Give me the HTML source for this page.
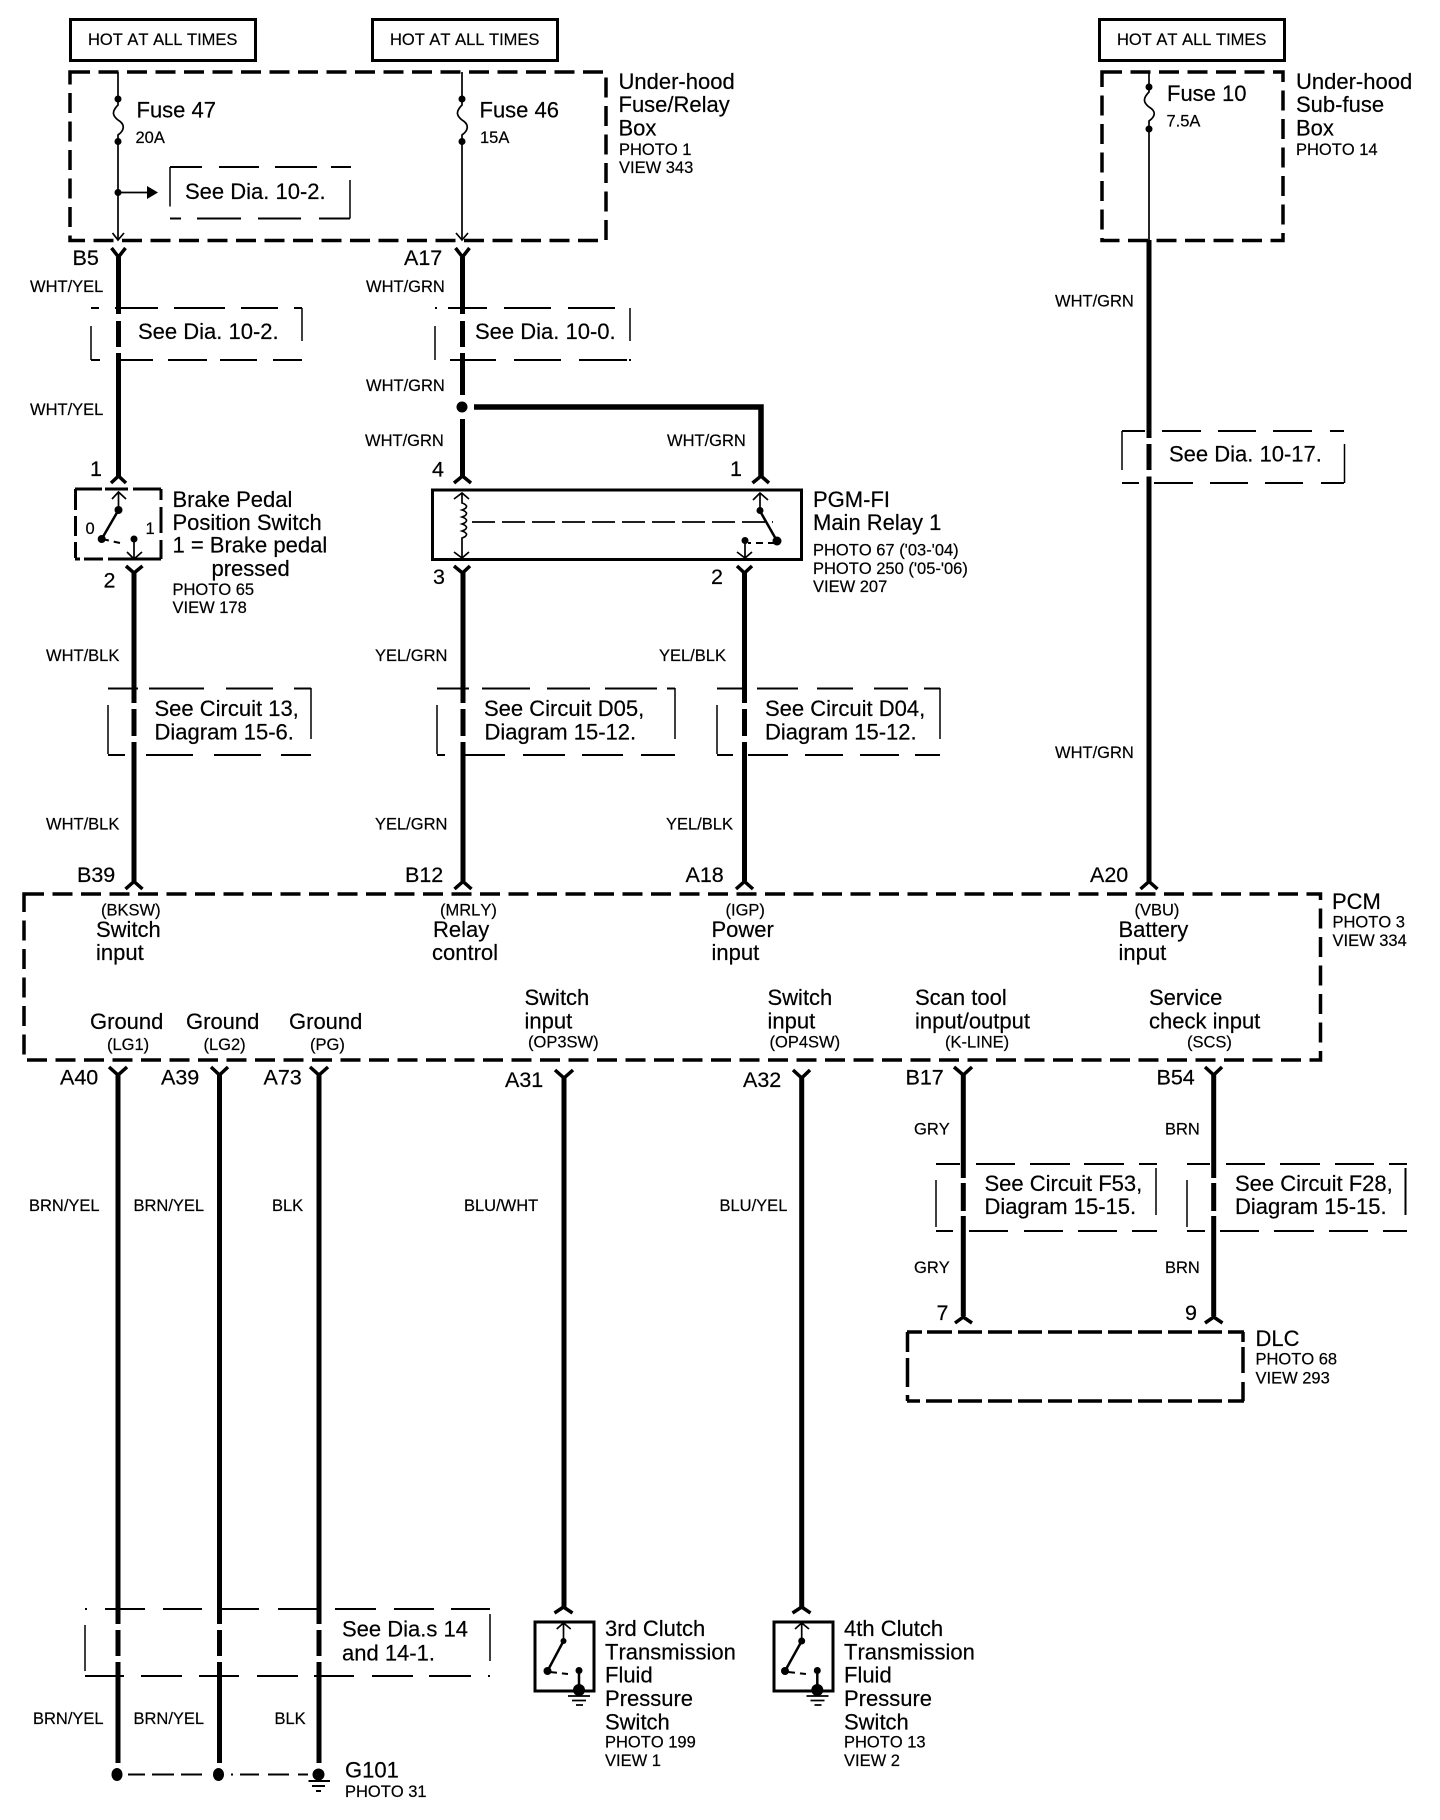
<!DOCTYPE html>
<html lang="en"><head><meta charset="utf-8"><title>Wiring diagram</title>
<style>
html,body{margin:0;padding:0;background:#fff}
svg{display:block}
text{font-family:"Liberation Sans",Arial,sans-serif;fill:#000;font-kerning:none;stroke:#000;stroke-width:.2}
.b{font-size:22px}.s{font-size:16.5px}.p{font-size:21.5px}
.w,.t,.d,.v,.c,.k,.x{fill:none;stroke:#000}
.w{stroke-width:5}.t{stroke-width:1.7}.d{stroke-width:2}.v{stroke-width:1.5}.c{stroke-width:3.5}
.k{stroke-width:3}.x{stroke-width:3.5;stroke-dasharray:20 8.5}
circle,ellipse,polygon{fill:#000}
</style></head><body>
<svg xmlns="http://www.w3.org/2000/svg" width="1440" height="1820" viewBox="0 0 1440 1820">
<rect width="1440" height="1820" fill="#fff"/>

<!-- HOT boxes -->
<rect class="k" x="70.5" y="19.5" width="185" height="41"/>
<rect class="k" x="372.5" y="19.5" width="185" height="41"/>
<rect class="k" x="1099.5" y="19.5" width="185" height="41"/>
<text class="s" x="88" y="45">HOT AT ALL TIMES</text>
<text class="s" x="390" y="45">HOT AT ALL TIMES</text>
<text class="s" x="1117" y="45">HOT AT ALL TIMES</text>

<!-- Fuse boxes -->
<rect class="x" x="70" y="72" width="536" height="168.5"/>
<rect class="x" x="1102" y="72" width="181" height="168.5"/>
<path class="t" d="M118 72V99C118 99 118 105 118 105C111 112 113 116 118 120C125 124 125 130 118 135V240"/>
<path class="t" d="M462 72V99V105C455 112 457 116 462 120C469 124 469 130 462 135V240"/>
<path class="t" d="M1149 72V87V92C1142 99 1144 103 1149 107C1156 111 1156 116 1149 121V240"/>
<circle cx="118" cy="99" r="3.5"/><circle cx="118" cy="141.5" r="3.5"/><circle cx="118" cy="192.5" r="3.5"/>
<circle cx="462" cy="99" r="3.5"/><circle cx="462" cy="141.5" r="3.5"/>
<circle cx="1149" cy="87" r="3.5"/><circle cx="1149" cy="129" r="3.5"/>
<path class="t" d="M118 192.5H148"/><polygon points="147,186 158,192.5 147,199"/>
<path class="t" d="M112.5 233L118 240L124 233M456 233L462 240L468 233"/>
<text class="b" x="136.5" y="117.5">Fuse 47</text><text class="s" x="135.5" y="143">20A</text>
<text class="b" x="479.5" y="117.5">Fuse 46</text><text class="s" x="480" y="143">15A</text>
<text class="b" x="1167" y="101">Fuse 10</text><text class="s" x="1166.5" y="126.5">7.5A</text>
<text class="b" x="618.5" y="89">Under-hood</text><text class="b" x="618.5" y="112">Fuse/Relay</text><text class="b" x="618.5" y="135.5">Box</text>
<text class="s" x="619" y="155">PHOTO 1</text><text class="s" x="619" y="173">VIEW 343</text>
<text class="b" x="1296" y="89">Under-hood</text><text class="b" x="1296" y="112">Sub-fuse</text><text class="b" x="1296" y="135.5">Box</text>
<text class="s" x="1296" y="155">PHOTO 14</text>

<!-- See Dia inner -->
<path class="d" d="M170 167H202M219 167H259M275 167H317M331 167H351M170 218.5H181M197 218.5H241M258 218.5H301M319 218.5H350"/>
<path class="v" d="M170 167V206.5M350 180V218.5"/>
<text class="b" x="185" y="199">See Dia. 10-2.</text>

<!-- See Dia 10-2 / 10-0 / 10-17 -->
<path class="d" d="M91 308H99M115 308H158M174 308H225M241 308H278M294 308H302M91 360H100M117 360H153M168 360H207M220 360H257M273 360H302"/>
<path class="v" d="M91 326V360M302 308V341"/>
<text class="b" x="138" y="339">See Dia. 10-2.</text>
<path class="d" d="M435 308H437M448 308H487M504 308H551M568 308H615M450 360H496M514 360H561M579 360H627M629 360H631"/>
<path class="v" d="M435 326V360M630 308V341"/>
<text class="b" x="475" y="339">See Dia. 10-0.</text>
<path class="d" d="M1122 431H1145M1162 431H1201M1218 431H1256M1273 431H1312M1330 431H1344M1122 483H1139M1154 483H1193M1210 483H1248M1265 483H1303M1321 483H1344"/>
<path class="v" d="M1122 431V470M1344.5 444V483"/>
<text class="b" x="1169" y="461.5">See Dia. 10-17.</text>

<!-- Circuit boxes -->
<path class="d" d="M108 688.5H138M149 688.5H204M226 688.5H273M294 688.5H311M108 755H125M146 755H193M214 755H261M281 755H311"/>
<path class="v" d="M108 705V754M311 688V739"/>
<text class="b" x="154.5" y="716">See Circuit 13,</text><text class="b" x="154.5" y="739.5">Diagram 15-6.</text>
<path class="d" d="M437 688.5H469M482 688.5H530M547 688.5H590M605 688.5H657M667 688.5H675M437 755H445M465 755H505M523 755H565M582 755H623M641 755H675"/>
<path class="v" d="M437 705V754M675 688V739"/>
<text class="b" x="484" y="716">See Circuit D05,</text><text class="b" x="484.5" y="739.5">Diagram 15-12.</text>
<path class="d" d="M717 688.5H745M757 688.5H798M817 688.5H853M874 688.5H908M924 688.5H940M717 755H733M748 755H788M805 755H843M860 755H899M915 755H940"/>
<path class="v" d="M717 705V754M940 688V739"/>
<text class="b" x="765" y="716">See Circuit D04,</text><text class="b" x="765" y="739.5">Diagram 15-12.</text>
<path class="d" d="M936 1164H960M976 1164H1015M1030 1164H1070M1084 1164H1124M1139 1164H1157M936 1231H953M969 1231H1008M1024 1231H1063M1078 1231H1117M1132 1231H1157"/>
<path class="v" d="M936 1180V1227M1156 1168V1215"/>
<text class="b" x="984.5" y="1191">See Circuit F53,</text><text class="b" x="984.5" y="1214">Diagram 15-15.</text>
<path class="d" d="M1187 1164H1210M1226 1164H1265M1280 1164H1320M1335 1164H1374M1389 1164H1407M1187 1231H1205M1220 1231H1259M1274 1231H1314M1329 1231H1368M1383 1231H1407"/>
<path class="v" d="M1187 1180V1227"/><path class="d" d="M1405.5 1168V1215"/>
<text class="b" x="1235" y="1191">See Circuit F28,</text><text class="b" x="1235" y="1214">Diagram 15-15.</text>
<path class="d" d="M85 1609H87M105 1609H145M163 1609H202M220 1609H259M278 1609H317M335 1609H376M394 1609H434M451 1609H490M85 1676H124M141 1676H182M199 1676H239M257 1676H298M314 1676H354M372 1676H413M429 1676H471M488 1676H490"/>
<path class="v" d="M85 1625V1671M490 1614V1661"/>
<text class="b" x="342" y="1636.5">See Dia.s 14</text><text class="b" x="342" y="1660.5">and 14-1.</text>

<!-- Wires -->
<path class="w" d="M118.5 257V314M118.5 321V347M118.5 353V477"/>
<path class="w" d="M462.5 257V314M462.5 321V347M462.5 353V395M462.5 419V477"/>
<circle cx="462" cy="407" r="5.5"/>
<path class="w" style="stroke-width:5.5" d="M474 407H761V477"/>
<path class="w" d="M134 572V703M134 709V736M134 742V881"/>
<path class="w" d="M463 572V703M463 709V736M463 742V881"/>
<path class="w" d="M744.5 572V703M744.5 709V736M744.5 742V881"/>
<path class="w" d="M1149 240V438M1149 444V470M1149 476.5V881"/>
<path class="w" d="M118 1075V1624M118 1630V1656M118 1662V1763"/>
<path class="w" d="M219.5 1075V1624M219.5 1630V1656M219.5 1662V1763"/>
<path class="w" d="M319 1075V1624M319 1630V1656M319 1662V1763"/>
<path class="w" d="M564 1078V1608"/><path class="w" d="M801.7 1078V1608"/>
<path class="w" d="M963.3 1075V1178M963.3 1183V1211M963.3 1216V1316"/>
<path class="w" d="M1213.7 1075V1178M1213.7 1183V1211M1213.7 1216V1316"/>

<!-- Connectors: Y (below) -->
<path class="c" d="M111.5 248L118.5 257L125.5 248M455.5 248L462.5 257L469.5 248M126 566L134 573L142.5 566M454 566L462.5 573L470 566M737 566L744.5 573L752 566"/>
<path class="c" d="M109 1067L118 1075L127 1067M211 1067L219.5 1075L228 1067M310 1067L319 1075L328 1067M555 1070L564 1078L573 1070M793 1070L801.7 1078L810 1070M954 1067L963.3 1075L972 1067M1205 1067L1213.7 1075L1222 1067"/>
<!-- Connectors: arches (above) -->
<path class="c" d="M111 483L118.5 476L126 483M454 483L462.5 476L471 483M752.5 483L761 476L769 483M125.5 889L134 881.5L142.5 889M454.5 889L463 881.5L471.5 889M736 889L744.5 881.5L753 889M1140.5 889L1149 881.5L1157.5 889M554.5 1613L563.5 1607L572.5 1613M792.5 1613L801.7 1607L810.5 1613M955 1323L963.3 1317L972 1323M1205 1323L1213.7 1317L1222.5 1323"/>

<!-- Pins -->
<text class="p" x="72.5" y="265">B5</text><text class="p" x="404" y="265">A17</text>
<text class="p" x="90" y="476">1</text><text class="p" x="432" y="476.5">4</text><text class="p" x="730" y="476">1</text>
<text class="p" x="103.5" y="587.5">2</text><text class="p" x="433" y="584">3</text><text class="p" x="711" y="584">2</text>
<text class="p" x="77" y="882">B39</text><text class="p" x="405" y="882">B12</text><text class="p" x="685.5" y="882">A18</text><text class="p" x="1090" y="882">A20</text>
<text class="p" x="60" y="1084.5">A40</text><text class="p" x="161" y="1084.5">A39</text><text class="p" x="263.5" y="1084.5">A73</text>
<text class="p" x="505" y="1087">A31</text><text class="p" x="743" y="1087">A32</text><text class="p" x="905.5" y="1084.5">B17</text><text class="p" x="1156.5" y="1084.5">B54</text>
<text class="p" x="936.5" y="1320">7</text><text class="p" x="1185" y="1320">9</text>

<!-- Wire labels -->
<text class="s" x="30" y="292">WHT/YEL</text><text class="s" x="30" y="415">WHT/YEL</text>
<text class="s" x="366" y="292">WHT/GRN</text><text class="s" x="366" y="391">WHT/GRN</text><text class="s" x="365" y="446">WHT/GRN</text><text class="s" x="667" y="446">WHT/GRN</text>
<text class="s" x="1055" y="306.5">WHT/GRN</text><text class="s" x="1055" y="758">WHT/GRN</text>
<text class="s" x="46" y="661">WHT/BLK</text><text class="s" x="46" y="829.5">WHT/BLK</text>
<text class="s" x="375" y="661">YEL/GRN</text><text class="s" x="375" y="829.5">YEL/GRN</text>
<text class="s" x="659" y="661">YEL/BLK</text><text class="s" x="666" y="829.5">YEL/BLK</text>
<text class="s" x="29" y="1211">BRN/YEL</text><text class="s" x="133.5" y="1211">BRN/YEL</text><text class="s" x="272" y="1211">BLK</text>
<text class="s" x="464" y="1211">BLU/WHT</text><text class="s" x="719.5" y="1211">BLU/YEL</text>
<text class="s" x="914" y="1134.5">GRY</text><text class="s" x="1165" y="1134.5">BRN</text>
<text class="s" x="914" y="1273">GRY</text><text class="s" x="1165" y="1273">BRN</text>
<text class="s" x="33" y="1724">BRN/YEL</text><text class="s" x="133.5" y="1724">BRN/YEL</text><text class="s" x="274.5" y="1724">BLK</text>

<!-- Brake switch -->
<path class="k" d="M75 489H102M105 489H128M133 489H161M75.5 489V510M75.5 516V536M75.5 542V558M161 489V500M161 507V533M161 540V559M75 559H80M84 559H103M108 559H161"/>
<path class="t" d="M118.5 492V510M112 499L118.5 492L126 499M134 539V559M127 552L134 559L142 552"/>
<circle cx="118.5" cy="510" r="4"/><circle cx="101.7" cy="539" r="4"/><circle cx="134" cy="539" r="3.5"/>
<path d="M118.5 510L101.7 539" stroke="#000" stroke-width="2.5" fill="none"/>
<path d="M102 539L120 543" stroke="#000" stroke-width="2" stroke-dasharray="7 5" fill="none"/>
<text class="s" x="85.5" y="534">0</text><text class="s" x="145.5" y="534">1</text>
<text class="b" x="172.5" y="507">Brake Pedal</text><text class="b" x="172.5" y="530">Position Switch</text><text class="b" x="172.5" y="552.5">1 = Brake pedal</text><text class="b" x="211.5" y="576">pressed</text>
<text class="s" x="172.5" y="595">PHOTO 65</text><text class="s" x="172.5" y="613">VIEW 178</text>

<!-- Main relay -->
<rect class="k" x="432.5" y="490" width="369" height="69.5"/>
<path class="t" d="M454 499L462 493L469 499M462 493V503C468 505 468 508 462 510C468 512 468 515 462 517C468 519 468 522 462 524C468 526 468 529 462 531C468 533 468 536 462 538V558M454 552L462 558L469 552"/>
<path class="t" d="M472 522H773" stroke-dasharray="23 7"/>
<path class="t" d="M753 500L760 493L768 500M760 493V510M745 541V558M737 552L745 558L752 552"/>
<circle cx="760" cy="510.5" r="3.5"/><circle cx="777" cy="541" r="4.5"/><circle cx="745" cy="540.5" r="3.5"/>
<path d="M760 511L777 541" stroke="#000" stroke-width="2.5" fill="none"/>
<path d="M775 543H748" stroke="#000" stroke-width="2" stroke-dasharray="7 5" fill="none"/>
<text class="b" x="813" y="507">PGM-FI</text><text class="b" x="813" y="530">Main Relay 1</text>
<text class="s" x="813" y="555.5">PHOTO 67 ('03-'04)</text><text class="s" x="813" y="574">PHOTO 250 ('05-'06)</text><text class="s" x="813" y="592">VIEW 207</text>

<!-- PCM -->
<rect class="x" x="24" y="894" width="1296.5" height="166"/>
<text class="s" x="101" y="915.5">(BKSW)</text><text class="b" x="96" y="937">Switch</text><text class="b" x="96" y="960">input</text>
<text class="s" x="440" y="915.5">(MRLY)</text><text class="b" x="433" y="937">Relay</text><text class="b" x="432" y="960">control</text>
<text class="s" x="725.5" y="915.5">(IGP)</text><text class="b" x="711.5" y="937">Power</text><text class="b" x="711.5" y="960">input</text>
<text class="s" x="1134.5" y="915.5">(VBU)</text><text class="b" x="1118.5" y="937">Battery</text><text class="b" x="1118.5" y="960">input</text>
<text class="b" x="1332" y="909">PCM</text><text class="s" x="1332.5" y="927.5">PHOTO 3</text><text class="s" x="1332.5" y="946">VIEW 334</text>
<text class="b" x="90" y="1029">Ground</text><text class="s" x="107" y="1050">(LG1)</text>
<text class="b" x="186" y="1029">Ground</text><text class="s" x="203.5" y="1050">(LG2)</text>
<text class="b" x="289" y="1029">Ground</text><text class="s" x="310" y="1050">(PG)</text>
<text class="b" x="524.5" y="1005">Switch</text><text class="b" x="524.5" y="1028.5">input</text><text class="s" x="528" y="1047.5">(OP3SW)</text>
<text class="b" x="767.5" y="1005">Switch</text><text class="b" x="767.5" y="1028.5">input</text><text class="s" x="769.5" y="1047.5">(OP4SW)</text>
<text class="b" x="915" y="1005">Scan tool</text><text class="b" x="915" y="1028.5">input/output</text><text class="s" x="945" y="1047.5">(K-LINE)</text>
<text class="b" x="1149" y="1005">Service</text><text class="b" x="1149" y="1028.5">check input</text><text class="s" x="1187" y="1047.5">(SCS)</text>

<!-- DLC -->
<path class="k" style="stroke-width:3.5" d="M907 1332H922M927 1332H952M958 1332H982M988 1332H1012M1018 1332H1042M1048 1332H1072M1078 1332H1102M1108 1332H1132M1138 1332H1162M1168 1332H1192M1198 1332H1222M1228 1332H1244M907.5 1332V1352M907.5 1358V1387M907.5 1395V1401M1243 1332V1342M1243 1347V1373M1243 1382V1401M907 1401H920M926 1401H952M958 1401H982M988 1401H1012M1018 1401H1042M1048 1401H1072M1078 1401H1102M1108 1401H1132M1138 1401H1162M1168 1401H1192M1198 1401H1222M1228 1401H1244"/>
<text class="b" x="1255.5" y="1346">DLC</text><text class="s" x="1255.5" y="1364.5">PHOTO 68</text><text class="s" x="1255.5" y="1383.5">VIEW 293</text>

<!-- Clutch switches -->
<rect class="k" x="535" y="1622" width="59" height="69"/>
<path class="t" d="M563.5 1623V1641M556.7 1629L563.5 1623L570.7 1629"/>
<circle cx="563.5" cy="1641" r="3"/><circle cx="547.5" cy="1671" r="4"/><circle cx="579" cy="1670.5" r="3.5"/><circle cx="579" cy="1690" r="6"/>
<path d="M563.5 1641L547.5 1671" stroke="#000" stroke-width="2.5" fill="none"/>
<path d="M550 1672L568 1674" stroke="#000" stroke-width="2" stroke-dasharray="7 5" fill="none"/>
<path d="M579 1670V1690" stroke="#000" stroke-width="2.5" fill="none"/>
<path class="t" d="M568 1696H590M572 1700.5H586M576 1705H583"/>
<text class="b" x="605" y="1636">3rd Clutch</text><text class="b" x="605" y="1659.5">Transmission</text><text class="b" x="605" y="1682.5">Fluid</text><text class="b" x="605" y="1706">Pressure</text><text class="b" x="605" y="1729.5">Switch</text>
<text class="s" x="605" y="1747.5">PHOTO 199</text><text class="s" x="605" y="1766">VIEW 1</text>

<rect class="k" x="774" y="1622" width="59" height="69"/>
<path class="t" d="M801.7 1623V1641M795 1629L801.7 1623L809 1629"/>
<circle cx="801.7" cy="1641" r="3.5"/><circle cx="785" cy="1671" r="4"/><circle cx="817.3" cy="1670.5" r="3.5"/><circle cx="817.3" cy="1690" r="6"/>
<path d="M801.7 1641L785 1671" stroke="#000" stroke-width="2.5" fill="none"/>
<path d="M788 1672L806 1674" stroke="#000" stroke-width="2" stroke-dasharray="7 5" fill="none"/>
<path d="M817.3 1670V1690" stroke="#000" stroke-width="2.5" fill="none"/>
<path class="t" d="M806.5 1696H828.5M810.5 1700.5H824.5M814.5 1705H821.5"/>
<text class="b" x="844" y="1636">4th Clutch</text><text class="b" x="844" y="1659.5">Transmission</text><text class="b" x="844" y="1682.5">Fluid</text><text class="b" x="844" y="1706">Pressure</text><text class="b" x="844" y="1729.5">Switch</text>
<text class="s" x="844" y="1747.5">PHOTO 13</text><text class="s" x="844" y="1766">VIEW 2</text>

<!-- G101 -->
<ellipse cx="117" cy="1774.5" rx="5.5" ry="6.5"/><ellipse cx="218.5" cy="1774.5" rx="5.5" ry="6.5"/><ellipse cx="318.5" cy="1774.5" rx="6" ry="6"/>
<path class="d" d="M128 1774.5H145M152 1774.5H174M181 1774.5H202M231 1774.5H233M240 1774.5H259M268 1774.5H289M298 1774.5H308"/>
<path class="d" d="M308.5 1781H330M312 1786H325M316 1791H321"/>
<text class="b" x="345" y="1777.5">G101</text><text class="s" x="345" y="1797">PHOTO 31</text>
</svg>
</body></html>
